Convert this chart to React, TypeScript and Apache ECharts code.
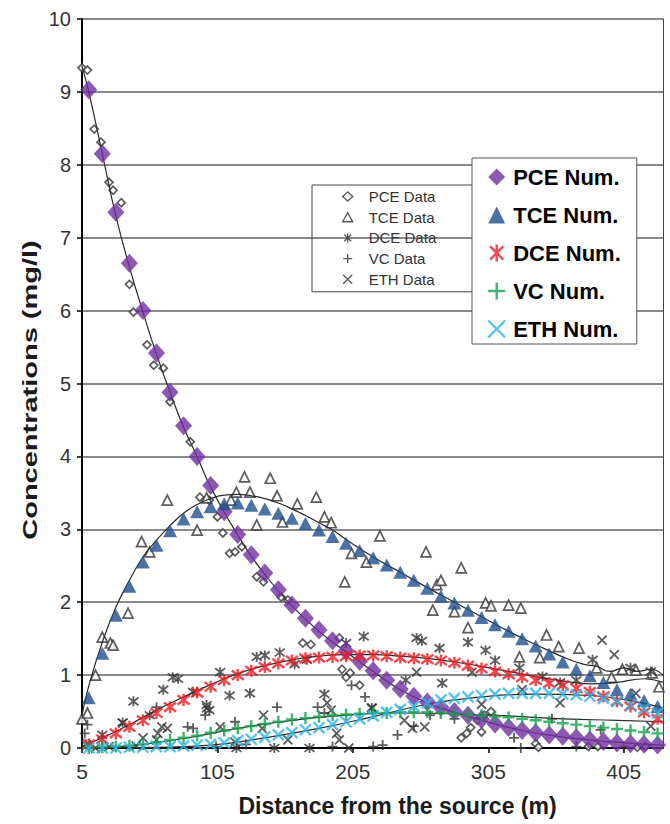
import React, { useEffect, useRef } from "react";
import * as echarts from "echarts";

// Distance (m) of the numerical-model nodes
const DIST = [
  10, 20, 30, 40, 50, 60, 70, 80, 90, 100,
  110, 120, 130, 140, 150, 160, 170, 180, 190, 200,
  210, 220, 230, 240, 250, 260, 270, 280, 290, 300,
  310, 320, 330, 340, 350, 360, 370, 380, 390, 400,
  410, 420, 430,
];

// Numerical results (mg/l)
const PCE_NUM = [
  9.03, 8.15, 7.35, 6.65, 6.0, 5.42, 4.88, 4.42, 4.0, 3.6,
  3.24, 2.93, 2.65, 2.4, 2.17, 1.96, 1.78, 1.62, 1.47, 1.33,
  1.19, 1.06, 0.93, 0.81, 0.71, 0.63, 0.56, 0.5, 0.45, 0.39,
  0.33, 0.28, 0.24, 0.21, 0.18, 0.16, 0.14, 0.11, 0.09, 0.07,
  0.06, 0.05, 0.04,
];
const TCE_NUM = [
  0.69, 1.3, 1.82, 2.22, 2.55, 2.78, 2.98, 3.14, 3.24, 3.31,
  3.35, 3.36, 3.33, 3.28, 3.22, 3.15, 3.08, 2.99, 2.9, 2.81,
  2.71, 2.61, 2.51, 2.41, 2.3, 2.19, 2.08, 1.99, 1.89, 1.79,
  1.69, 1.6, 1.5, 1.4, 1.29, 1.18, 1.08, 0.99, 0.9, 0.8,
  0.74, 0.65, 0.57,
];
const DCE_NUM = [
  0.05, 0.12, 0.2, 0.29, 0.38, 0.48, 0.56, 0.66, 0.76, 0.84,
  0.93, 1.0, 1.06, 1.11, 1.16, 1.2, 1.23, 1.24, 1.25, 1.26,
  1.27, 1.27, 1.26, 1.24, 1.23, 1.22, 1.2, 1.17, 1.13, 1.09,
  1.05, 1.01, 0.97, 0.93, 0.89, 0.86, 0.82, 0.77, 0.71, 0.64,
  0.57, 0.49, 0.4,
];
const VC_NUM = [
  0.0, 0.01, 0.02, 0.03, 0.05, 0.08, 0.11, 0.14, 0.17, 0.21,
  0.24, 0.27, 0.3, 0.33, 0.36, 0.39, 0.41, 0.43, 0.45, 0.46,
  0.47, 0.48, 0.48, 0.49, 0.49, 0.49, 0.48, 0.47, 0.46, 0.45,
  0.43, 0.42, 0.4, 0.38, 0.36, 0.34, 0.32, 0.3, 0.28, 0.26,
  0.24, 0.22, 0.2,
];
const ETH_NUM = [
  0.0, 0.0, 0.0, 0.01, 0.01, 0.02, 0.02, 0.03, 0.04, 0.05,
  0.07, 0.1, 0.12, 0.15, 0.18, 0.21, 0.25, 0.28, 0.32, 0.36,
  0.4, 0.44, 0.49, 0.53, 0.57, 0.62, 0.66, 0.68, 0.7, 0.72,
  0.74, 0.75, 0.75, 0.75, 0.75, 0.74, 0.73, 0.71, 0.68, 0.64,
  0.59, 0.54, 0.48,
];

// Field measurements [distance, concentration]
const PCE_DATA = [
  [5, 9.33], [9, 9.3], [14, 8.49], [19, 8.31], [25, 7.76], [28, 7.65], [34, 7.48],
  [40, 6.36], [43, 5.98], [53, 5.53], [58, 5.25], [65, 5.21], [70, 4.75], [85, 4.2],
  [92, 3.44], [99, 3.4], [105, 3.17], [109, 2.95], [114, 2.67], [118, 2.69], [123, 2.76],
  [134, 2.35], [139, 2.28], [152, 2.07], [157, 2.03], [168, 1.44], [174, 1.42], [195, 1.51],
  [197, 1.08], [200, 0.97], [203, 1.03], [210, 0.86], [285, 0.14], [289, 0.2], [292, 0.28],
  [297, 0.38], [302, 0.45], [307, 0.5], [300, 0.22], [340, 0.06], [342, 0.01], [379, 0.02],
  [386, 0.02], [415, 0.01], [421, 0.02],
];
const TCE_DATA = [
  [5, 0.4], [9, 0.48], [15, 1.0], [20, 1.52], [26, 1.44], [28, 1.41], [39, 1.85], [49, 2.83],
  [55, 2.69], [68, 3.4], [90, 2.99], [97, 3.43], [115, 3.4], [119, 3.51], [125, 3.72],
  [129, 3.51], [134, 3.06], [144, 3.7], [149, 3.46], [153, 3.1], [164, 3.35], [178, 3.44],
  [184, 3.17], [189, 3.09], [199, 2.28], [204, 2.67], [215, 2.55], [225, 2.91], [259, 2.69],
  [264, 1.89], [267, 2.24], [270, 2.3], [280, 1.87], [285, 2.47], [290, 1.65], [303, 1.99],
  [307, 1.95], [320, 1.96], [328, 1.25], [329, 1.92], [343, 1.24], [348, 1.55], [357, 1.39],
  [372, 1.37], [385, 1.1], [396, 0.97], [404, 1.08], [414, 1.07], [426, 1.03], [431, 0.84],
];
const DCE_DATA = [
  [8, 0.05], [20, 0.18], [35, 0.35], [43, 0.64], [55, 0.45], [65, 0.8], [72, 0.97],
  [76, 0.95], [87, 0.77], [97, 0.59], [99, 0.52], [107, 1.04], [114, 0.72], [119, 0.0],
  [129, 0.75], [134, 1.25], [140, 1.27], [147, 0.0], [151, 1.31], [162, 1.15], [171, 1.21],
  [173, 0.0], [184, 0.74], [200, 1.44], [213, 1.53], [219, 0.55], [244, 0.93], [252, 1.51],
  [256, 1.47], [269, 1.37], [271, 0.89], [290, 1.45], [303, 1.34], [310, 1.2], [328, 1.1],
  [345, 0.98], [358, 0.9], [370, 0.93], [382, 1.21], [410, 1.1], [425, 1.05],
];
const VC_DATA = [
  [7, 0.2], [9, 0.32], [60, 0.56], [83, 0.29], [87, 0.27], [96, 0.45], [104, 0.02],
  [118, 0.36], [126, 0.05], [149, 0.56], [179, 0.56], [184, 0.48], [190, 0.02], [204, 0.86],
  [214, 0.7], [220, 0.02], [227, 0.04], [238, 0.18], [250, 0.3], [262, 0.45], [280, 0.4],
  [324, 0.14], [329, 0.0], [352, 0.4], [370, 0.02], [388, 0.25], [405, 0.02],
];
const ETH_DATA = [
  [15, 0.0], [25, 0.02], [35, 0.34], [45, 0.03], [50, 0.14], [60, 0.11], [61, 0.2],
  [64, 0.29], [68, 0.27], [97, 0.55], [107, 0.29], [118, 0.08], [138, 0.27], [139, 0.45],
  [157, 0.11], [186, 0.62], [189, 0.52], [193, 0.2], [195, 0.11], [202, 0.0], [219, 0.55],
  [243, 0.38], [249, 0.27], [252, 1.04], [258, 0.29], [293, 1.04], [300, 0.6], [330, 0.8],
  [358, 0.62], [389, 1.48], [398, 1.28], [414, 0.75], [425, 0.3],
];

// Fitted curves drawn as thin dark lines
const PCE_FIT = [
  [5, 9.35], [10, 9.0], [20, 8.15], [30, 7.3], [40, 6.6], [50, 5.98], [60, 5.4], [70, 4.88],
  [80, 4.4], [90, 4.0], [100, 3.58], [120, 2.92], [140, 2.38], [160, 1.95], [180, 1.6],
  [200, 1.32], [220, 1.05], [240, 0.8], [260, 0.62], [280, 0.49], [300, 0.38], [330, 0.24],
  [360, 0.15], [400, 0.08], [434, 0.04],
];
const TCE_FIT = [
  [5, 0.45], [10, 0.85], [20, 1.45], [30, 1.93], [40, 2.3], [50, 2.62], [60, 2.85],
  [70, 3.05], [80, 3.22], [90, 3.34], [100, 3.42], [110, 3.47], [120, 3.48], [130, 3.46],
  [140, 3.42], [150, 3.36], [160, 3.28], [170, 3.19], [180, 3.09], [190, 2.99], [200, 2.86],
  [220, 2.62], [240, 2.41], [260, 2.2], [280, 2.0], [300, 1.8], [320, 1.6], [340, 1.42],
  [360, 1.25], [375, 1.15], [385, 1.12], [395, 1.05], [405, 1.1], [415, 1.05], [425, 1.08],
  [434, 1.0],
];
const DCE_FIT = [
  [5, 0.02], [20, 0.14], [40, 0.32], [60, 0.52], [80, 0.7], [100, 0.87], [120, 1.02],
  [140, 1.13], [160, 1.21], [180, 1.26], [200, 1.28], [220, 1.28], [240, 1.26], [260, 1.23],
  [280, 1.18], [300, 1.12], [320, 1.05], [340, 0.98], [360, 0.92], [380, 0.88], [400, 0.9],
  [420, 0.95], [434, 0.9],
];
const VC_FIT = [
  [5, 0.0], [40, 0.03], [80, 0.13], [120, 0.27], [160, 0.38], [200, 0.45], [240, 0.48],
  [280, 0.47], [320, 0.44], [360, 0.4], [400, 0.38], [434, 0.36],
];
const ETH_FIT = [
  [5, 0.0], [60, 0.01], [100, 0.04], [140, 0.14], [180, 0.27], [220, 0.43], [260, 0.6],
  [300, 0.7], [340, 0.74], [380, 0.72], [410, 0.65], [434, 0.55],
];

const X_TICKS = [5, 105, 205, 305, 405];
const Y_TITLE = "Concentrations (mg/l)";

const FONT = "'Liberation Sans', Arial, sans-serif";

const STAR = "path://M0 0L10 10M10 0L0 10M5 -1.5L5 11.5";
const PLUS = "path://M5 0L5 10M0 5L10 5";
const CROSS = "path://M0 0L10 10M10 0L0 10";

const C_PCE = "#7030a0";
const C_TCE = "#1f4e8c";
const C_DCE = "#ee1c24";
const C_VC = "#12a14b";
const C_ETH = "#2eb4e8";
const C_DATA = "#333333";

function pairs(values: number[]) {
  return DIST.map((d, i) => [d, values[i]]);
}

function buildOption(): echarts.EChartsOption {
  const dataSeries = (name: string, data: number[][], symbol: string, size: number, open: boolean) => ({
    name,
    type: "scatter" as const,
    data,
    symbol,
    symbolSize: size,
    itemStyle: open
      ? { color: "#ffffff", borderColor: C_DATA, borderWidth: 1.7 }
      : { color: C_DATA, borderColor: C_DATA, borderWidth: 1.8 },
    silent: true,
    z: 2,
  });
  const fitSeries = (name: string, data: number[][]) => ({
    name,
    type: "line" as const,
    data,
    smooth: true,
    showSymbol: false,
    lineStyle: { color: "#2a2a2a", width: 1.2 },
    silent: true,
    z: 3,
  });
  const numSeries = (name: string, values: number[], symbol: string, size: number | number[], color: string, stroke: boolean) => ({
    name,
    type: "scatter" as const,
    data: pairs(values),
    symbol,
    symbolSize: size,
    itemStyle: stroke
      ? { color, borderColor: color, borderWidth: 2.4 }
      : { color },
    silent: true,
    z: 4,
  });

  return {
    animation: false,
    backgroundColor: "#ffffff",
    textStyle: { fontFamily: FONT },
    grid: { left: 82, right: 7, top: 19, bottom: 76 },
    graphic: [
      {
        type: "text",
        x: 30,
        y: 390,
        rotation: Math.PI / 2,
        scaleX: 1.45,
        style: {
          text: Y_TITLE,
          font: `bold 20px ${FONT}`,
          fill: "#1a1a1a",
          align: "center",
          verticalAlign: "middle",
          textAlign: "center",
          textVerticalAlign: "middle",
        },
        z: 10,
      },
    ],
    legend: [
      {
        orient: "vertical",
        left: 312,
        top: 185,
        itemWidth: 10,
        itemHeight: 9,
        itemGap: 5.7,
        padding: [4, 62, 5, 30],
        borderColor: "#444",
        borderWidth: 1,
        selectedMode: false,
        textStyle: { fontFamily: FONT, fontSize: 15, lineHeight: 15, color: "#333", padding: [0, 0, 0, 11] },
        itemStyle: { borderWidth: 1.4 },
        data: ["PCE Data", "TCE Data", "DCE Data", "VC Data", "ETH Data"],
        z: 5,
      },
      {
        orient: "vertical",
        left: 472,
        top: 158,
        itemWidth: 17,
        itemHeight: 17,
        itemGap: 16,
        padding: [8, 16, 4, 15],
        backgroundColor: "#ffffff",
        borderColor: "#555",
        borderWidth: 1,
        selectedMode: false,
        textStyle: { fontFamily: FONT, fontSize: 22, lineHeight: 22, fontWeight: "bold", color: "#000", padding: [0, 0, 0, 3] },
        itemStyle: { borderWidth: 2.4 },
        data: ["PCE Num.", "TCE Num.", "DCE Num.", "VC Num.", "ETH Num."],
        z: 6,
      },
    ],
    xAxis: {
      type: "value",
      min: 5,
      max: 434,
      interval: 100,
      name: "Distance from the source (m)",
      nameLocation: "middle",
      nameGap: 46,
      nameTextStyle: { fontFamily: FONT, fontSize: 23, fontWeight: "bold", color: "#1a1a1a", padding: [0, 0, 0, 50] },
      axisLine: { show: true, onZero: false, lineStyle: { color: "#000", width: 2 } },
      axisTick: { show: true, length: 5, lineStyle: { color: "#000", width: 1.5 } },
      axisLabel: {
        fontFamily: FONT,
        fontSize: 21,
        color: "#333",
        margin: 13,
        showMaxLabel: false,
        formatter: (v: number) => (X_TICKS.includes(v) ? String(v) : ""),
      },
      splitLine: { show: false },
    },
    yAxis: [
      {
        type: "value",
        min: 0,
        max: 10,
        interval: 1,
        axisLine: { show: true, lineStyle: { color: "#000", width: 2 } },
        axisTick: { show: true, length: 5, lineStyle: { color: "#000", width: 1.5 } },
        axisLabel: { fontFamily: FONT, fontSize: 20, color: "#333", margin: 11 },
        splitLine: { show: true, lineStyle: { color: "#8a8a8a", width: 2 } },
      },
      {
        type: "value",
        position: "right",
        min: 0,
        max: 10,
        interval: 1,
        axisLine: { show: true, lineStyle: { color: "#444", width: 1 } },
        axisTick: { show: false },
        axisLabel: { show: false },
        splitLine: { show: false },
      },
    ],
    series: [
      dataSeries("PCE Data", PCE_DATA, "diamond", 8, true),
      dataSeries("TCE Data", TCE_DATA, "triangle", 10, true),
      dataSeries("DCE Data", DCE_DATA, STAR, 10, false),
      dataSeries("VC Data", VC_DATA, PLUS, 10, false),
      dataSeries("ETH Data", ETH_DATA, CROSS, 9, false),
      fitSeries("PCE fit", PCE_FIT),
      fitSeries("TCE fit", TCE_FIT),
      fitSeries("DCE fit", DCE_FIT),
      fitSeries("VC fit", VC_FIT),
      fitSeries("ETH fit", ETH_FIT),
      numSeries("PCE Num.", PCE_NUM, "diamond", [17, 19], C_PCE, false),
      numSeries("TCE Num.", TCE_NUM, "triangle", [14, 13], C_TCE, false),
      numSeries("DCE Num.", DCE_NUM, STAR, 12, C_DCE, true),
      numSeries("VC Num.", VC_NUM, PLUS, 12, C_VC, true),
      numSeries("ETH Num.", ETH_NUM, CROSS, 11, C_ETH, true),
    ],
  } as echarts.EChartsOption;
}

export default function App() {
  const ref = useRef<HTMLDivElement>(null);
  useEffect(() => {
    if (!ref.current) return;
    const chart = echarts.init(ref.current, null, { renderer: "svg" });
    chart.setOption(buildOption());
    return () => chart.dispose();
  }, []);
  return (
    <div
      ref={ref}
      style={{ position: "fixed", left: 0, top: 0, width: 670, height: 824, background: "#fff" }}
    />
  );
}
